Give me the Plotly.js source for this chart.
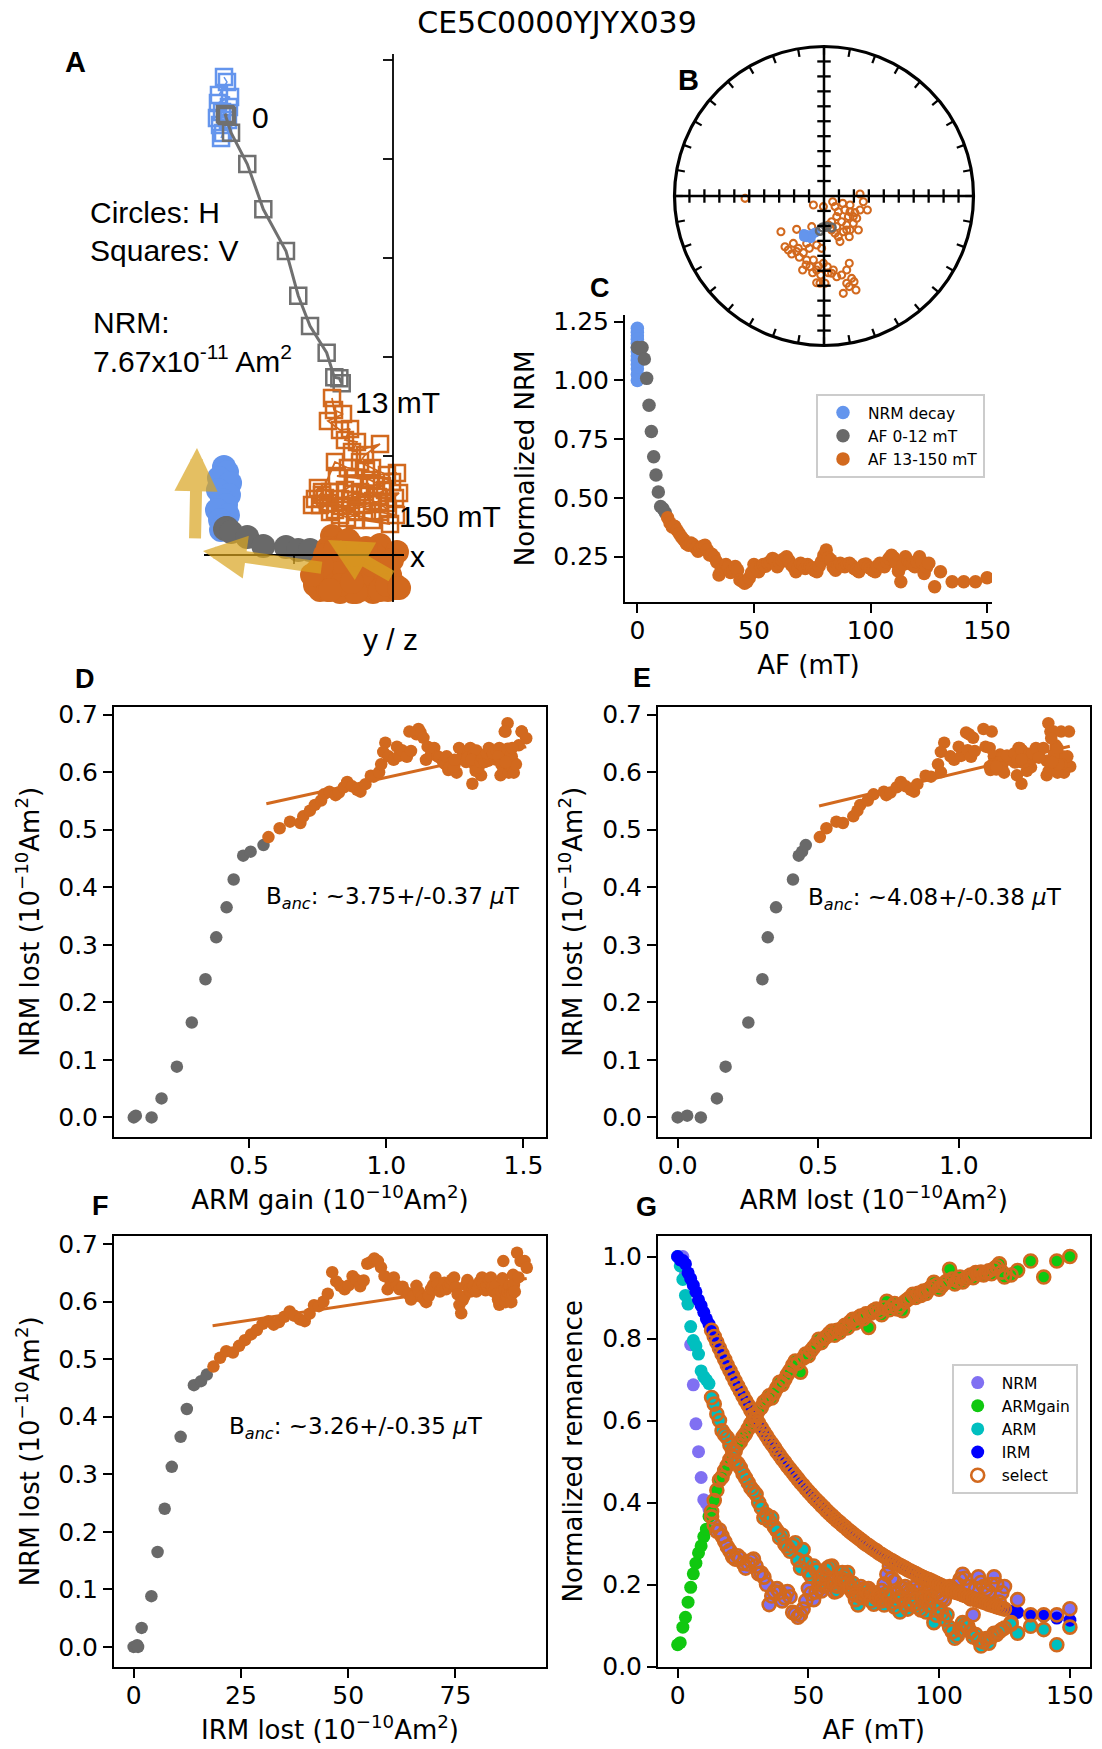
<!DOCTYPE html>
<html><head><meta charset="utf-8">
<script src="https://cdn.plot.ly/plotly-3.0.1.min.js"></script>
<style>html,body{margin:0;padding:0;background:#fff}#chart{width:1102px;height:1749px}</style>
</head><body><div id="chart"></div>
<script>
// ================= DATA =================
// AF demagnetisation steps (mT); first 13 steps are the 0-12 mT (grey) steps
const afSteps = [0,1,2,3,4,5,6,7,8,9,10,11,12,
13,14,15,16,17,18,19,20,21,22,23,24,25,26,27,28,29,30,31,32,33,34,35,36,37,38,39,40,
41,42,43,44,45,46,47,48,49,50,51,52,53,54,55,56,57,58,59,60,61,62,63,64,65,66,67,68,69,70,
71,72,73,74,75,76,77,78,79,80,81,82,83,84,85,86,87,88,89,90,91,92,93,94,95,96,97,98,99,100,
101,102,103,104,105,106,107,108,109,110,111,112,113,114,115,116,117,118,119,120,121,122,123,124,125,
127.5,130,135,140,145,150];
const nGray = 13;

// normalised remanences (panel G)
const nrmNorm = [1.000,0.996,1.000,0.957,0.885,0.785,0.687,0.592,0.524,0.461,0.407,0.398,0.383,
.365,.345,.330,.333,.318,.305,.292,.282,
.268,.262,.270,.264,.252,.240,.250,.258,.262,.245,
.226,.228,.218,.200,.151,.172,.182,.190,.181,.160,
.168,.183,.170,.132,.128,.120,.126,.140,.160,.190,
.178,.163,.182,.190,.184,.196,.200,.213,.205,.182,
.196,.207,.212,.219,.205,.189,.180,.163,.178,.195,
.188,.175,.190,.182,.176,.168,.163,.185,.201,.225,
.244,.215,.207,.180,.169,.190,.195,.186,.182,.192,
.195,.186,.175,.170,.163,.178,.189,.192,.182,.175,
.168,.163,.185,.195,.190,.182,.200,.213,.225,.215,
.195,.165,.126,.190,.219,.205,.195,.188,.182,.200,
.219,.200,.157,.180,.195,
.107,.163,.126,.126,.126,.141];
const armGainNorm = [.053,.058,.096,.120,.157,.193,.226,.252,.277,.294,.317,.335,.366,
.378,.405,.430,.455,.462,.478,.490,.505,
.512,.525,.540,.548,.560,.568,.580,.592,.600,.612,
.625,.632,.645,.650,.660,.655,.668,.680,.693,.688,
.700,.712,.722,.735,.745,.740,.718,.752,.762,.758,
.770,.778,.786,.798,.790,.800,.805,.812,.818,.808,
.820,.815,.825,.832,.826,.840,.847,.838,.850,.855,
.848,.860,.827,.862,.868,.872,.865,.858,.875,.891,
.870,.878,.885,.872,.880,.868,.890,.895,.900,.908,
.900,.910,.905,.916,.910,.920,.925,.937,.930,.920,
.928,.935,.940,.969,.945,.933,.940,.950,.938,.945,
.950,.955,.948,.961,.958,.962,.955,.961,.965,.958,
.970,.975,.982,.962,.950,
.955,.966,.989,.950,.989,1.000];
const armNorm = [1.000,.977,.944,.905,.884,.829,.795,.782,.762,.721,.707,.699,.690,
.656,.640,.616,.600,.575,.565,.558,.540,
.526,.501,.495,.485,.470,.460,.448,.436,.428,.420,
.400,.387,.363,.370,.355,.363,.340,.331,.314,.320,
.298,.290,.281,.295,.302,.260,.240,.285,.255,.230,
.220,.245,.235,.203,.216,.225,.238,.243,.245,.200,
.184,.215,.229,.210,.229,.195,.203,.175,.150,.170,
.168,.185,.177,.160,.152,.167,.172,.160,.150,.179,
.168,.155,.145,.160,.133,.167,.150,.140,.159,.150,
.163,.145,.138,.167,.133,.150,.168,.107,.125,.142,
.130,.115,.126,.095,.085,.069,.075,.090,.107,.102,
.098,.085,.072,.078,.065,.050,.060,.068,.057,.072,
.081,.078,.085,.090,.094,
.103,.081,.098,.090,.053,.096];
const irmNorm = [1.000,.992,.990,.982,.960,.946,.930,.914,.894,.880,.864,.848,.835,
.820,.805,.791,.776,.762,.749,.735,.722,
.709,.696,.684,.672,.660,.648,.637,.625,.614,.603,
.593,.582,.572,.562,.552,.543,.534,.524,.515,.506,
.498,.489,.481,.473,.465,.457,.449,.442,.434,.427,
.420,.413,.406,.400,.393,.387,.380,.374,.368,.362,
.356,.351,.345,.340,.334,.329,.324,.319,.314,.309,
.304,.299,.295,.290,.286,.282,.277,.273,.269,.265,
.261,.258,.254,.250,.247,.243,.240,.236,.233,.230,
.227,.223,.220,.217,.214,.212,.209,.206,.203,.200,
.197,.194,.191,.188,.185,.183,.180,.178,.175,.173,
.170,.168,.166,.163,.161,.159,.157,.155,.152,.150,
.148,.146,.144,.142,.140,
.135,.132,.127,.123,.118,.113];
const irmSelectMaxAF = 125;

// scale factors (10^-10 Am^2) and panel-C normalisation
const nrmStart = 0.767, armGainMax = 1.51, armStart = 1.47, irmStart = 103.3;
const cNormFactor = 1.14;

// repeated NRM measurements (panel C, "NRM decay")
const nrmDecayAF = [0,0,0,0,0,0,0,0,0,0,0,0,0];
const nrmDecayC = [1.222,1.205,1.19,1.175,1.158,1.14,1.122,1.104,1.086,1.068,1.05,1.025,1.0];

// linear fits (panels D, E, F)
const fitDX = [0.563, 1.51], fitDY = [0.545, 0.644];
const fitEX = [0.503, 1.395], fitEY = [0.541, 0.645];
const fitFX = [18.4, 91.6],   fitFY = [0.558, 0.640];
const bancD = '~3.75+/-0.37', bancE = '~4.08+/-0.38', bancF = '~3.26+/-0.35';

// Zijderveld (panel A), units of one axis tick
const zijBlueX = [-1.707,-1.677,-1.758,-1.646,-1.768,-1.657,-1.727,-1.687,-1.778,-1.667,-1.747,-1.717,-1.737];
const zijBlueZ = [4.828,4.778,4.646,4.626,4.566,4.525,4.475,4.434,4.414,4.394,4.343,4.263,4.212];
const zijBlueY = [0.889,0.838,0.778,0.727,0.657,0.606,0.556,0.505,0.455,0.404,0.354,0.303,0.253];
const zijGrayX = [-1.687,-1.677,-1.697,-1.636,-1.472,-1.310,-1.081,-0.957,-0.838,-0.670,-0.593,-0.542,-0.518];
const zijGrayZ = [4.444,4.434,4.455,4.266,3.949,3.492,3.071,2.619,2.313,2.043,1.795,1.785,1.734];
const zijGrayY = [0.273,0.273,0.263,0.232,0.182,0.091,0.081,0.051,0.051,0.030,0.020,0.020,0.010];
const zijOrangeX = [-0.616,-0.596,-0.505,-0.657,-0.535,-0.434,-0.485,-0.364,-0.414,-0.131,-0.283,-0.333,-0.212,-0.061,0.040,-0.566,-0.384,-0.232,-0.111,-0.404,-0.485,-0.636,-0.758,-0.788,-0.737,-0.535,-0.333,-0.202,-0.051,-0.263,-0.465,-0.030,-0.586,-0.687,-0.434,-0.283,-0.152,0.020,-0.313,-0.515,-0.717,-0.657,-0.374,-0.131,0.030,-0.212,-0.384,-0.535,-0.081,-0.182,-0.010,-0.273,-0.455,-0.586,-0.717,-0.818,-0.636,-0.061,0.061,-0.414];
const zijOrangeZ = [1.586,1.465,1.424,1.354,1.263,1.273,1.162,1.141,1.040,1.121,1.010,0.939,0.879,0.808,0.828,0.798,0.778,0.758,0.697,0.717,0.657,0.636,0.677,0.566,0.505,0.566,0.636,0.545,0.465,0.444,0.374,0.313,0.455,0.576,0.556,0.606,0.586,0.576,0.505,0.495,0.606,0.525,0.434,0.434,0.404,0.354,0.354,0.404,0.657,0.707,0.737,0.859,0.879,0.939,0.636,0.505,0.434,0.525,0.626,0.616];
const zijOrangeY = [0.192,0.152,0.101,0.071,0.030,0.121,-0.051,0.051,-0.101,0.101,-0.152,-0.030,-0.202,-0.051,0.030,-0.232,-0.303,-0.354,-0.253,-0.374,-0.333,-0.283,-0.152,-0.303,-0.354,-0.374,-0.354,-0.374,-0.354,-0.253,-0.202,-0.202,-0.051,0,-0.232,-0.303,-0.354,-0.303,-0.202,-0.131,-0.232,-0.354,-0.374,-0.354,-0.333,-0.101,0,-0.303,-0.152,0,-0.051,0.071,0.152,0.051,-0.101,-0.202,-0.354,-0.303,-0.333,-0.273];
// fitted-direction arrows [tail -> tip]
const zijArrowTailX = [-2.000, -0.707, 0.000];
const zijArrowTailY = [0.152, -0.131, -0.222];
const zijArrowTipX  = [-1.980, -1.919, -0.657];
const zijArrowTipY  = [1.081, 0.040, 0.152];
const zijAxisH = [-1.909, 0.111], zijAxisV = [-0.475, 5.061];
const zijTicksV = [1,2,3,4,5], zijTicksH = [-1];

// Equal-area stereonet (panel B), unit circle coordinates
const stereoOrangeX = [-0.528,0.241,0.263,0.290,0.058,0.125,0.074,0.096,0.174,0.207,0.241,0.085,0.163,0.219,0.051,0.118,0.196,0.029,0.152,0.085,0.230,0.174,0.129,0.051,0.096,0.169,0.107,-0.071,-0.004,-0.288,-0.183,-0.082,-0.261,-0.205,-0.172,-0.138,-0.098,-0.049,-0.016,-0.216,-0.165,-0.116,-0.071,-0.143,-0.076,-0.038,-0.120,-0.004,0.022,-0.027,-0.049,0.007,0.051,0.085,0.118,0.152,0.169,0.185,0.201,0.152,0.169,0.214,0.129,0.062,0.029,0.174,0.140,0.196,0.152,0.074,-0.116,-0.183,-0.239,-0.094,-0.049,-0.022];
const stereoOrangeY = [-0.016,0.013,-0.038,-0.094,-0.038,-0.049,-0.071,-0.105,-0.105,-0.111,-0.094,-0.138,-0.138,-0.149,-0.172,-0.172,-0.183,-0.194,-0.194,-0.205,-0.227,-0.227,-0.239,-0.227,-0.272,-0.272,-0.305,-0.060,-0.071,-0.239,-0.223,-0.205,-0.339,-0.317,-0.350,-0.379,-0.350,-0.328,-0.350,-0.388,-0.410,-0.428,-0.428,-0.495,-0.513,-0.468,-0.462,-0.450,-0.473,-0.584,-0.580,-0.584,-0.517,-0.540,-0.528,-0.495,-0.450,-0.551,-0.573,-0.584,-0.606,-0.629,-0.651,-0.495,-0.513,-0.060,-0.094,-0.138,-0.227,-0.250,-0.317,-0.372,-0.361,-0.473,-0.495,-0.528];
const stereoBlueX = [-0.134,-0.116,-0.098,-0.076,-0.060,-0.116,-0.089,-0.134];
const stereoBlueY = [-0.254,-0.261,-0.268,-0.254,-0.245,-0.276,-0.283,-0.272];
const stereoGrayX = [-0.027,-0.009,0.018,0.051];
const stereoGrayY = [-0.232,-0.210,-0.205,-0.210];
const stereoCrossTicks = [0.1,0.2,0.3,0.4,0.5,0.6,0.7,0.8,0.9];
const stereoRimTicksDeg = [0,10,20,30,40,50,60,70,80,90,100,110,120,130,140,150,160,170,180,190,200,210,220,230,240,250,260,270,280,290,300,310,320,330,340,350];

// ================= STYLE / LAYOUT =================
const W = 1102, H = 1749;
const fx = v => v / W;
const fy = v => 1 - v / H;
const COL = {blue:'#6495ED', gray:'#696969', zgray:'#707070', orange:'#D2691E', nrm:'#8070F2',
             armgain:'#10C810', arm:'#00BFBF', irm:'#0000FF', gold:'#DAA520'};
const TICKF = {family:'DejaVu Sans', size:25, color:'black'};
const TITF = {family:'DejaVu Sans', size:26, color:'black'};
const SUPU = ' (10<sup>−10</sup>Am<sup>2</sup>)';

const idx = afSteps.map((_, i) => i);
const gi = idx.filter(i => i < nGray), oi = idx.filter(i => i >= nGray);
const pick = (a, ii) => ii.map(i => a[i]);

const nrmLost = nrmNorm.map(v => nrmStart * (1 - v));
const armGain = armGainNorm.map(v => armGainMax * v);
const armLost = armNorm.map(v => armStart * (1 - v));
const irmLost = irmNorm.map(v => irmStart * (1 - v));
const cNorm = nrmNorm.map(v => v * cNormFactor);

const traces = [];
// ---- C ----
traces.push({type:'scatter', mode:'markers', x:nrmDecayAF, y:nrmDecayC, xaxis:'x', yaxis:'y', name:'NRM decay', legend:'legend', marker:{color:COL.blue, size:13.5}});
traces.push({type:'scatter', mode:'markers', x:pick(afSteps,gi), y:pick(cNorm,gi), xaxis:'x', yaxis:'y', name:'AF 0-12 mT', legend:'legend', marker:{color:COL.gray, size:13.5}});
traces.push({type:'scatter', mode:'markers', x:pick(afSteps,oi), y:pick(cNorm,oi), xaxis:'x', yaxis:'y', name:'AF 13-150 mT', legend:'legend', marker:{color:COL.orange, size:13.5}});
// ---- D, E, F ----
function pijTraces(xs, fitX, fitY, xa, ya) {
  traces.push({type:'scatter', mode:'lines', x:fitX, y:fitY, xaxis:xa, yaxis:ya, showlegend:false, line:{color:COL.orange, width:3}});
  traces.push({type:'scatter', mode:'markers', x:pick(xs,gi), y:pick(nrmLost,gi), xaxis:xa, yaxis:ya, showlegend:false, marker:{color:COL.gray, size:12.5}});
  traces.push({type:'scatter', mode:'markers', x:pick(xs,oi), y:pick(nrmLost,oi), xaxis:xa, yaxis:ya, showlegend:false, marker:{color:COL.orange, size:12.5}});
}
pijTraces(armGain, fitDX, fitDY, 'x2', 'y2');
pijTraces(armLost, fitEX, fitEY, 'x3', 'y3');
pijTraces(irmLost, fitFX, fitFY, 'x4', 'y4');
// ---- G ----
[['NRM', nrmNorm, COL.nrm], ['ARMgain', armGainNorm, COL.armgain], ['ARM', armNorm, COL.arm], ['IRM', irmNorm, COL.irm]].forEach(([nm, arr, c]) => {
  traces.push({type:'scatter', mode:'markers', x:afSteps, y:arr, xaxis:'x5', yaxis:'y5', name:nm, legend:'legend2', marker:{color:c, size:13}});
});
let selX = [], selY = [];
[nrmNorm, armGainNorm, armNorm].forEach(arr => { selX = selX.concat(pick(afSteps,oi)); selY = selY.concat(pick(arr,oi)); });
const irmSel = oi.filter(i => afSteps[i] <= irmSelectMaxAF);
selX = selX.concat(pick(afSteps,irmSel)); selY = selY.concat(pick(irmNorm,irmSel));
traces.push({type:'scatter', mode:'markers', x:selX, y:selY, xaxis:'x5', yaxis:'y5', name:'select', legend:'legend2',
  marker:{symbol:'circle-open', color:COL.orange, size:13, line:{width:2.6, color:COL.orange}}});
// ---- A (Zijderveld) ----
function zij(x, y, sym, c, size, lw) {
  const open = sym.indexOf('open') >= 0;
  traces.push({type:'scatter', mode:'lines+markers', x:x, y:y, xaxis:'x6', yaxis:'y6', showlegend:false, cliponaxis:false,
    line:{color:c, width:lw}, marker:{symbol:sym, color:c, size:size, line:{width: open ? 2.5 : 0, color:c}}});
}
zij(zijBlueX, zijBlueZ, 'square-open', COL.blue, 16, 1.5);
zij(zijBlueX, zijBlueY, 'circle', COL.blue, 24, 1.5);
zij(zijGrayX, zijGrayZ, 'square-open', COL.zgray, 16, 3);
zij(zijGrayX, zijGrayY, 'circle', COL.gray, 24, 3);
zij(zijOrangeX, zijOrangeZ, 'square-open', COL.orange, 16, 1.8);
zij(zijOrangeX, zijOrangeY, 'circle', COL.orange, 24, 1.8);
// ---- B (stereonet) ----
traces.push({type:'scatter', mode:'markers', x:stereoOrangeX, y:stereoOrangeY, xaxis:'x7', yaxis:'y7', showlegend:false,
  marker:{symbol:'circle-open', color:COL.orange, size:7, line:{width:2.1, color:COL.orange}}});
traces.push({type:'scatter', mode:'markers', x:stereoBlueX, y:stereoBlueY, xaxis:'x7', yaxis:'y7', showlegend:false,
  marker:{color:COL.blue, size:10}});
traces.push({type:'scatter', mode:'markers', x:stereoGrayX, y:stereoGrayY, xaxis:'x7', yaxis:'y7', showlegend:false,
  marker:{symbol:'circle-open', color:COL.gray, size:8, line:{width:2.5, color:COL.gray}}});

// ---- shapes ----
const shapes = [];
const ln = (xr, yr, x0, y0, x1, y1, w) => shapes.push({type:'line', xref:xr, yref:yr, x0, y0, x1, y1, line:{color:'black', width:w}});
// A axes
ln('x6','y6', zijAxisH[0], 0, zijAxisH[1], 0, 1.8);
ln('x6','y6', 0, zijAxisV[0], 0, zijAxisV[1], 1.8);
zijTicksV.forEach(t => ln('x6','y6', -0.101, t, 0, t, 1.8));
zijTicksH.forEach(t => ln('x6','y6', t, 0, t, -0.091, 1.5));
// B net
shapes.push({type:'circle', xref:'x7', yref:'y7', x0:-1, y0:-1, x1:1, y1:1, line:{color:'black', width:3.2}});
ln('x7','y7', -1, 0, 1, 0, 2.5);
ln('x7','y7', 0, -1, 0, 1, 2.5);
const ct = 0.045;
stereoCrossTicks.forEach(r => {
  ln('x7','y7', r, -ct, r, ct, 2.3); ln('x7','y7', -r, -ct, -r, ct, 2.3);
  ln('x7','y7', -ct, r, ct, r, 2.3); ln('x7','y7', -ct, -r, ct, -r, 2.3);
});
stereoRimTicksDeg.forEach(d => {
  const a = d * Math.PI / 180, s = Math.sin(a), c = Math.cos(a);
  ln('x7','y7', s, c, 0.945 * s, 0.945 * c, 2.2);
});

// ---- annotations ----
const ann = [];
const txt = (t, x, y, xa, font, extra) => ann.push(Object.assign({text:t, xref:'paper', yref:'paper', x:fx(x), y:fy(y), xanchor:xa, yanchor:'middle', showarrow:false, font:font}, extra || {}));
const LAB = s => ({family:'Liberation Sans', size:s, color:'black'});
txt('<b>A</b>', 75, 62, 'center', LAB(29));
txt('<b>B</b>', 688, 80, 'center', LAB(29));
txt('<b>C</b>', 600, 288, 'center', LAB(27));
txt('<b>D</b>', 85, 679, 'center', LAB(27));
txt('<b>E</b>', 642, 678, 'center', LAB(27));
txt('<b>F</b>', 100, 1206, 'center', LAB(27));
txt('<b>G</b>', 646, 1207, 'center', LAB(27));
txt('0', 250, 118, 'left', LAB(30));
txt('13 mT', 353, 402, 'left', LAB(30));
txt('150 mT', 397, 517, 'left', LAB(30));
txt('x', 417, 556, 'center', LAB(30));
txt('y / z', 390, 640, 'center', LAB(30));
txt('Circles: H', 88, 212, 'left', LAB(30));
txt('Squares: V', 88, 251, 'left', LAB(30));
txt('NRM:', 91, 322, 'left', LAB(30));
txt('7.67x10<sup>-11</sup> Am<sup>2</sup>', 91, 359, 'left', LAB(30));
// B_anc text (data coords)
const BF = {family:'DejaVu Sans', size:23, color:'black'};
[[bancD,'x2','y2',0.554,0.381],[bancE,'x3','y3',0.455,0.38],[bancF,'x4','y4',21.8,0.38]].forEach(([v,xr,yr,x,y]) => {
  ann.push({text:'B<sub><i>anc</i></sub>: ' + v + ' <i>μ</i>T', xref:xr, yref:yr, x:x, y:y, xanchor:'left', yanchor:'middle', showarrow:false, font:BF});
});
// arrows
for (let k = 0; k < zijArrowTipX.length; k++) {
  ann.push({text:'', xref:'x6', yref:'y6', axref:'x6', ayref:'y6', x:zijArrowTipX[k], y:zijArrowTipY[k], ax:zijArrowTailX[k], ay:zijArrowTailY[k],
    showarrow:true, arrowhead:2, arrowsize:0.72, arrowwidth:12, arrowcolor:COL.gold, opacity:0.7});
}

// ---- axes ----
function ax(o) {
  return Object.assign({showgrid:false, zeroline:false, showline:true, linecolor:'black', linewidth:2, mirror:true,
    ticks:'outside', ticklen:9, tickwidth:2, tickcolor:'black', tickfont:TICKF}, o);
}
const xax = o => ax(Object.assign({ticklabelstandoff:-4}, o));
const dyT = (a, b) => [fy(b), fy(a)];
const hidden = o => Object.assign({visible:false, showgrid:false, zeroline:false}, o);

const layout = {
  width:W, height:H, autosize:false, margin:{l:0, r:0, t:0, b:0},
  paper_bgcolor:'white', plot_bgcolor:'white', font:{family:'DejaVu Sans', color:'black'},
  title:{text:'CE5C0000YJYX039', x:557/W, xref:'paper', xanchor:'center', y:fy(22), yref:'container', yanchor:'middle', font:{family:'DejaVu Sans', size:30, color:'black'}},
  xaxis: xax({domain:[fx(625), fx(992)], range:[-5.3, 152.1], tickvals:[0,50,100,150], anchor:'y', mirror:false,
    title:{text:'AF (mT)', font:TITF, standoff:12}}),
  yaxis: ax({domain:dyT(315, 601.7), range:[0.0585, 1.2785], tickvals:[0.25,0.5,0.75,1.0,1.25], tickformat:'.2f', anchor:'x', mirror:false,
    title:{text:'Normalized NRM', font:TITF, standoff:11}}),
  xaxis2: xax({domain:[fx(114), fx(546)], range:[0.008, 1.582], tickvals:[0.5,1.0,1.5], tickformat:'.1f', anchor:'y2',
    title:{text:'ARM gain' + SUPU, font:TITF, standoff:12}}),
  yaxis2: ax({domain:dyT(706.5, 1137), range:[-0.034, 0.714], tickvals:[0,0.1,0.2,0.3,0.4,0.5,0.6,0.7], tickformat:'.1f', anchor:'x2',
    title:{text:'NRM lost' + SUPU, font:TITF, standoff:11}}),
  xaxis3: xax({domain:[fx(658), fx(1089.5)], range:[-0.07, 1.465], tickvals:[0,0.5,1.0], tickformat:'.1f', anchor:'y3',
    title:{text:'ARM lost' + SUPU, font:TITF, standoff:12}}),
  yaxis3: ax({domain:dyT(706.5, 1137), range:[-0.034, 0.714], tickvals:[0,0.1,0.2,0.3,0.4,0.5,0.6,0.7], tickformat:'.1f', anchor:'x3',
    title:{text:'NRM lost' + SUPU, font:TITF, standoff:12}}),
  xaxis4: xax({domain:[fx(114), fx(546)], range:[-4.58, 96.1], tickvals:[0,25,50,75], anchor:'y4',
    title:{text:'IRM lost' + SUPU, font:TITF, standoff:12}}),
  yaxis4: ax({domain:dyT(1236, 1666.5), range:[-0.034, 0.714], tickvals:[0,0.1,0.2,0.3,0.4,0.5,0.6,0.7], tickformat:'.1f', anchor:'x4',
    title:{text:'NRM lost' + SUPU, font:TITF, standoff:11}}),
  xaxis5: xax({domain:[fx(658), fx(1089.5)], range:[-7.5, 157.5], tickvals:[0,50,100,150], anchor:'y5',
    title:{text:'AF (mT)', font:TITF, standoff:12}}),
  yaxis5: ax({domain:dyT(1236, 1666.5), range:[0, 1.05], tickvals:[0,0.2,0.4,0.6,0.8,1.0], tickformat:'.1f', anchor:'x5',
    title:{text:'Normalized remanence', font:TITF, standoff:12}}),
  xaxis6: hidden({domain:[fx(160), fx(440)], range:[(160-393)/99, (440-393)/99], anchor:'y6'}),
  yaxis6: hidden({domain:dyT(40, 660), range:[(555-660)/99, (555-40)/99], anchor:'x6'}),
  xaxis7: hidden({domain:[fx(664), fx(984)], range:[-1.0702, 1.0702], anchor:'y7'}),
  yaxis7: hidden({domain:dyT(36, 356), range:[-1.0702, 1.0702], anchor:'x7'}),
  legend: {x:fx(816), y:fy(394), xanchor:'left', yanchor:'top', bgcolor:'rgba(255,255,255,0.8)', bordercolor:'#cccccc', borderwidth:2,
    font:{family:'DejaVu Sans', size:15.5, color:'black'}, itemwidth:40},
  legend2: {x:fx(951.7), y:fy(1364), xanchor:'left', yanchor:'top', bgcolor:'rgba(255,255,255,0.8)', bordercolor:'#cccccc', borderwidth:2,
    font:{family:'DejaVu Sans', size:15.5, color:'black'}, itemwidth:38},
  shapes: shapes,
  annotations: ann,
  showlegend: true
};

Plotly.newPlot('chart', traces, layout, {staticPlot:true, displayModeBar:false});
</script></body></html>
